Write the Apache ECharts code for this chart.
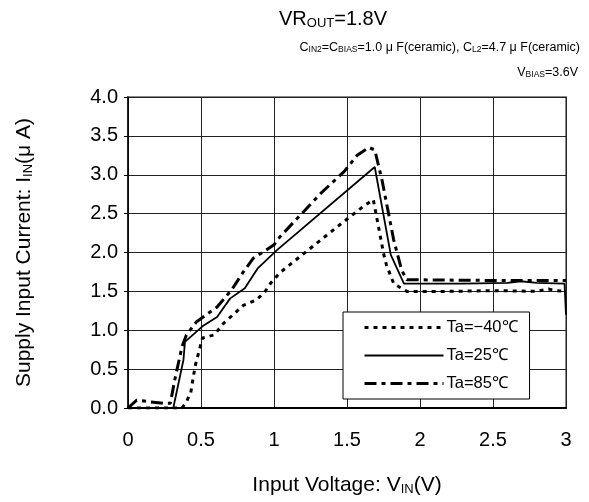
<!DOCTYPE html>
<html>
<head>
<meta charset="utf-8">
<script src="https://cdn.jsdelivr.net/npm/echarts@6/dist/echarts.min.js"></script>
<style>html,body{margin:0;padding:0;background:#fff;}#c{width:589px;height:502px;}</style>
</head>
<body>
<div id="c"></div>
<script>
// ---- data ----
var xTicks = [0, 0.5, 1, 1.5, 2, 2.5, 3];
var yTicks = [0, 0.5, 1, 1.5, 2, 2.5, 3, 3.5, 4];
var seriesNames = ['Ta=\u221240\u2103', 'Ta=25\u2103', 'Ta=85\u2103'];

var vinM40 = [0, 0.37, 0.40, 0.43, 0.46, 0.51, 0.59, 0.655, 0.72, 0.79, 0.88, 0.94, 0.975, 1.04, 1.18, 1.32, 1.46, 1.61, 1.68, 1.716, 1.75, 1.77, 1.82, 1.91, 2.2, 2.5, 2.8, 2.88, 2.93, 3.0];
var iinM40 = [0, 0, 0.08, 0.2, 0.54, 0.9, 0.94, 1.09, 1.20, 1.32, 1.39, 1.50, 1.60, 1.74, 1.95, 2.16, 2.37, 2.59, 2.68, 2.33, 1.99, 1.84, 1.60, 1.50, 1.50, 1.51, 1.50, 1.53, 1.51, 1.50];

var vin25 = [0, 0.31, 0.38, 0.39, 0.51, 0.61, 0.70, 0.80, 0.89, 1.02, 1.69, 1.80, 1.89, 2.3, 2.6, 2.69, 2.8, 2.99, 3.0];
var iin25 = [0, 0, 0.62, 0.85, 1.05, 1.17, 1.41, 1.54, 1.80, 2.03, 3.10, 1.97, 1.60, 1.60, 1.61, 1.63, 1.61, 1.60, 1.20];

var vin85 = [0, 0.06, 0.24, 0.29, 0.32, 0.37, 0.40, 0.47, 0.61, 0.71, 0.79, 0.86, 0.93, 1.0, 1.04, 1.18, 1.32, 1.48, 1.57, 1.65, 1.69, 1.74, 1.82, 1.875, 1.91, 2.5, 3.0];
var iin85 = [0, 0.1, 0.06, 0.06, 0.36, 0.79, 0.94, 1.11, 1.30, 1.52, 1.75, 1.93, 2.01, 2.10, 2.20, 2.48, 2.76, 3.04, 3.25, 3.35, 3.32, 2.93, 2.16, 1.77, 1.65, 1.64, 1.64];

function pairs(xs, ys) { return xs.map(function (x, i) { return [x, ys[i]]; }); }

var FONT = 'Liberation Sans, Arial, sans-serif';
var lineStyles = [
  {color: '#000', width: 3, type: [4, 5]},
  {color: '#000', width: 1.8, type: 'solid'},
  {color: '#000', width: 3, type: [12, 5, 4, 5]}
];
var chart = echarts.init(document.getElementById('c'), null, {renderer: 'canvas'});

chart.setOption({
  animation: false,
  backgroundColor: '#fff',
  textStyle: {fontFamily: FONT, color: '#000'},
  grid: {left: 128, right: 23, top: 97, bottom: 94, show: true, borderColor: '#8c8c8c', borderWidth: 2, backgroundColor: 'transparent'},
  graphic: [
    {type: 'text', left: 279, top: 9, style: {text: 'VR{s|OUT}=1.8V', font: '20px ' + FONT, fill: '#000', rich: {s: {fontSize: 13, fontFamily: FONT, padding: [8, 0, 0, 0]}}}},
    {type: 'text', right: 9, top: 41, style: {text: 'C{s|IN2}=C{s|BIAS}=1.0 \u03bc F(ceramic), C{s|L2}=4.7 \u03bc F(ceramic)', font: '12.5px ' + FONT, fill: '#000', rich: {s: {fontSize: 8.5, fontFamily: FONT, padding: [5, 0, 0, 0]}}}},
    {type: 'text', right: 11, top: 66, style: {text: 'V{s|BIAS}=3.6V', font: '12.5px ' + FONT, fill: '#000', rich: {s: {fontSize: 8.5, fontFamily: FONT, padding: [5, 0, 0, 0]}}}}
  ],
  legend: {
    left: 343, top: 312, orient: 'vertical',
    backgroundColor: '#fff', borderColor: '#000', borderWidth: 1,
    padding: [7, 12, 7, 20], itemGap: 11, itemWidth: 79, itemHeight: 14,
    itemStyle: {opacity: 0},
    textStyle: {fontSize: 16.5, fontFamily: FONT, color: '#000', padding: [0, 0, 0, -2]},
    data: seriesNames.map(function (n, i) { return {name: n, lineStyle: lineStyles[i]}; })
  },
  xAxis: {
    type: 'value', min: 0, max: 3, interval: 0.5,
    name: 'Input Voltage: V{s|IN}(V)', nameLocation: 'middle', nameGap: 66,
    nameTextStyle: {fontSize: 21, fontFamily: FONT, color: '#000', rich: {s: {fontSize: 13, fontFamily: FONT, padding: [9, 0, 0, 0]}}},
    axisLine: {show: true, lineStyle: {color: '#000', width: 2}},
    axisTick: {show: false},
    axisLabel: {fontSize: 20, color: '#000', margin: 22, formatter: function (v) { return String(v); }},
    splitLine: {show: true, lineStyle: {color: '#222', width: 1}}
  },
  yAxis: {
    type: 'value', min: 0, max: 4, interval: 0.5,
    name: 'Supply Input Current: I{s|IN}(\u03bc A)', nameLocation: 'middle', nameGap: 93, nameRotate: 90,
    nameTextStyle: {fontSize: 21, fontFamily: FONT, color: '#000', rich: {s: {fontSize: 13, fontFamily: FONT, padding: [9, 0, 0, 0]}}},
    axisLine: {show: true, lineStyle: {color: '#000', width: 1.5}},
    axisTick: {show: true, length: 4, lineStyle: {color: '#000'}},
    axisLabel: {fontSize: 20, color: '#000', margin: 10, formatter: function (v) { return v.toFixed(1); }},
    splitLine: {show: true, lineStyle: {color: '#222', width: 1}}
  },
  series: [
    {name: seriesNames[0], type: 'line', data: pairs(vinM40, iinM40), symbol: 'none', lineStyle: lineStyles[0], itemStyle: {color: '#000'}},
    {name: seriesNames[1], type: 'line', data: pairs(vin25, iin25), symbol: 'none', lineStyle: lineStyles[1], itemStyle: {color: '#000'}},
    {name: seriesNames[2], type: 'line', data: pairs(vin85, iin85), symbol: 'none', lineStyle: lineStyles[2], itemStyle: {color: '#000'}}
  ]
});
</script>
</body>
</html>
